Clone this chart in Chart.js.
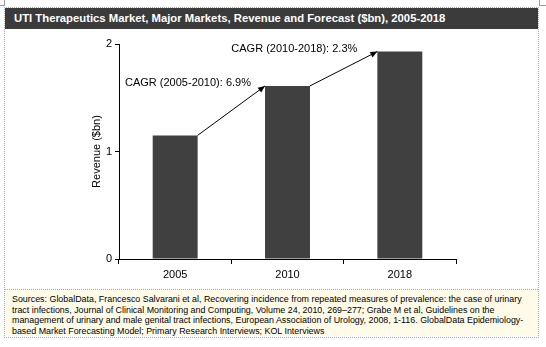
<!DOCTYPE html>
<html>
<head>
<meta charset="utf-8">
<script src="https://cdn.jsdelivr.net/npm/chart.js@4/dist/chart.umd.min.js"></script>
<style>
  body { margin: 0; background: #fff; }
  #wrap { position: relative; width: 546px; height: 347px; overflow: hidden; font-family: Arial, "Liberation Sans", sans-serif; }
  #frame { position: absolute; left: 4px; top: 7px; width: 533px; height: 329px; border: 1px dotted #aaa; }
  #title { position: absolute; left: 5px; top: 8px; width: 533px; height: 21px; background: #3b3b3b; color: #fff;
           font-weight: bold; font-size: 11.3px; line-height: 21px; padding-left: 9px; box-sizing: border-box; white-space: nowrap; }
  #source { position: absolute; left: 5px; top: 289px; width: 533px; height: 47px; background: #fffbe8;
            border-top: 1px dotted #aaa; box-sizing: border-box; padding: 4px 0 0 7px; font-size: 8.9px; line-height: 10.5px; color: #000; white-space: nowrap; }
  .crop { position: absolute; background: #999; }
  canvas { position: absolute; left: 0; top: 0; }
</style>
</head>
<body>
<div id="wrap">
  <div class="crop" style="left:4px;top:0;width:1px;height:6px"></div>
  <div class="crop" style="left:0;top:5px;width:5px;height:1px"></div>
  <div class="crop" style="left:539px;top:0;width:1px;height:6px"></div>
  <div class="crop" style="left:539px;top:5px;width:7px;height:1px"></div>
  <div id="frame"></div>
  <div id="title">UTI Therapeutics Market, Major Markets, Revenue and Forecast ($bn), 2005-2018</div>
  <div id="source">Sources: GlobalData, Francesco Salvarani et al, Recovering incidence from repeated measures of prevalence: the case of urinary<br>tract infections, Journal of Clinical Monitoring and Computing, Volume 24, 2010, 269–277; Grabe M et al, Guidelines on the<br>management of urinary and male genital tract infections, European Association of Urology, 2008, 1-116. GlobalData Epidemiology-<br>based Market Forecasting Model; Primary Research Interviews; KOL Interviews</div>
  <canvas id="chart" width="546" height="347"></canvas>
</div>
<script>
// data
const categories = ['2005', '2010', '2018'];
const revenue = [1.15, 1.61, 1.93];
const cagrLabels = ['CAGR (2005-2010): 6.9%', 'CAGR (2010-2018): 2.3%'];
const yMin = 0;
const yMax = 2;

const FONT = 'Arial, "Liberation Sans", sans-serif';

// arrows between bar tops + CAGR texts
const cagrPlugin = {
  id: 'cagr',
  afterDatasetsDraw(chart) {
    const ctx = chart.ctx;
    const bars = chart.getDatasetMeta(0).data;
    const xs = chart.scales.x, ys = chart.scales.y;
    ctx.save();
    ctx.strokeStyle = '#000';
    ctx.fillStyle = '#000';
    ctx.lineWidth = 1;
    for (let i = 0; i < bars.length - 1; i++) {
      const a = bars[i], b = bars[i + 1];
      const x1 = a.x + a.width / 2, y1 = a.y;
      const x2 = b.x - b.width / 2, y2 = b.y;
      ctx.beginPath();
      ctx.moveTo(x1, y1);
      ctx.lineTo(x2, y2);
      ctx.stroke();
      const ang = Math.atan2(y2 - y1, x2 - x1);
      const len = 7, hw = 3;
      ctx.beginPath();
      ctx.moveTo(x2, y2);
      ctx.lineTo(x2 - len * Math.cos(ang) + hw * Math.sin(ang), y2 - len * Math.sin(ang) - hw * Math.cos(ang));
      ctx.lineTo(x2 - len * Math.cos(ang) - hw * Math.sin(ang), y2 - len * Math.sin(ang) + hw * Math.cos(ang));
      ctx.closePath();
      ctx.fill();
    }
    ctx.font = '11px ' + FONT;
    ctx.textBaseline = 'middle';
    ctx.textAlign = 'left';
    ctx.fillText(cagrLabels[0], xs.getPixelForValue(-0.5) + 6, ys.getPixelForValue(1.64));
    ctx.fillText(cagrLabels[1], xs.getPixelForValue(0.5), ys.getPixelForValue(1.95));
    ctx.restore();
  }
};

new Chart(document.getElementById('chart'), {
  type: 'bar',
  data: {
    labels: categories,
    datasets: [{
      data: revenue,
      backgroundColor: '#404040',
      borderWidth: 0,
      categoryPercentage: 1,
      barPercentage: 0.4
    }]
  },
  options: {
    responsive: false,
    animation: false,
    layout: { padding: { left: 86, right: 90, top: 44, bottom: 58 } },
    plugins: { legend: { display: false }, tooltip: { enabled: false } },
    scales: {
      x: {
        afterFit(scale) { scale.height = 30; },
        grid: { drawOnChartArea: false, tickLength: 5, color: '#000', offset: true },
        border: { color: '#000', width: 1 },
        ticks: { color: '#000', font: { family: FONT, size: 11 }, padding: 4 }
      },
      y: {
        min: yMin,
        max: yMax,
        afterFit(scale) { scale.width = 33; },
        grid: { drawOnChartArea: false, tickLength: 4, color: '#000' },
        border: { color: '#000', width: 1 },
        ticks: { stepSize: 1, color: '#000', font: { family: FONT, size: 11 }, padding: 3 },
        title: { display: true, text: 'Revenue ($bn)', color: '#000', font: { family: FONT, size: 11 } }
      }
    }
  },
  plugins: [cagrPlugin]
});
</script>
</body>
</html>
